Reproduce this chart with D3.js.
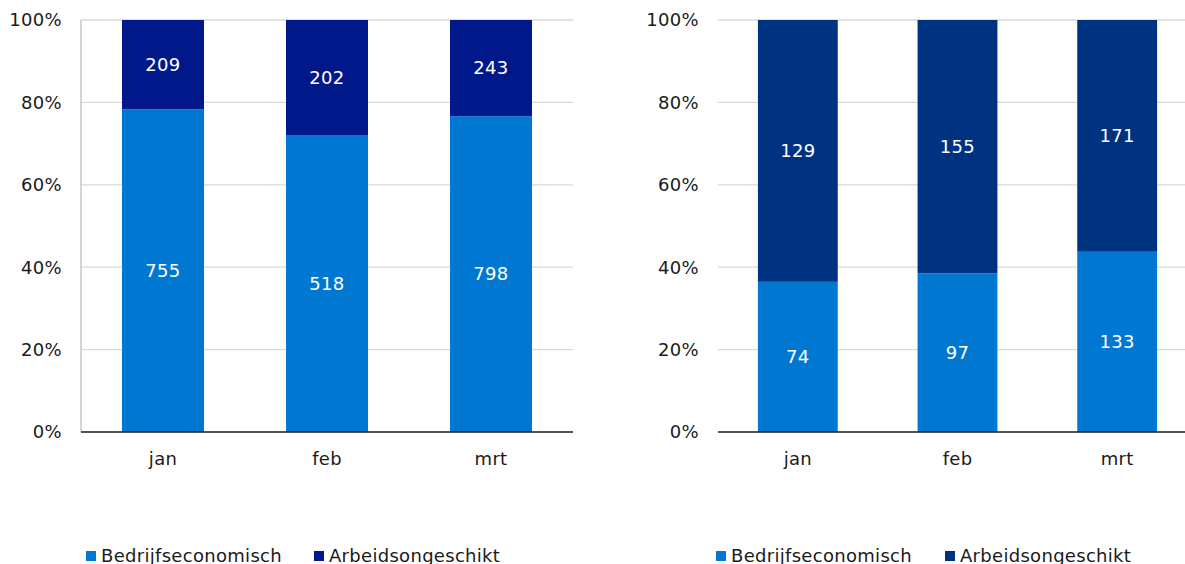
<!DOCTYPE html>
<html>
<head>
<meta charset="utf-8">
<script src="https://cdn.jsdelivr.net/npm/d3@7"></script>
<style>
  body { margin: 0; background: #fff; }
  svg { display: block; font-family: "DejaVu Sans", Verdana, sans-serif; letter-spacing: 0.3px; }
</style>
</head>
<body>
<svg id="chart" width="1185" height="564"></svg>
<script>
// Data
const months = ["jan", "feb", "mrt"];
const seriesNames = ["Bedrijfseconomisch", "Arbeidsongeschikt"];
const leftBedrijf = [755, 518, 798];
const leftArbeid  = [209, 202, 243];
const rightBedrijf = [74, 97, 133];
const rightArbeid  = [129, 155, 171];
const percentTicks = [0, 0.2, 0.4, 0.6, 0.8, 1];

const svg = d3.select("#chart");
const fs = 18;

// one panel per chart
function drawPanel(opts) {
  const rows = months.map((m, i) => ({ month: m, a: opts.a[i], b: opts.b[i] }));
  const stacked = d3.stack().keys(["a", "b"]).offset(d3.stackOffsetExpand)(rows);

  const x = d3.scaleBand().domain(months).range([opts.x0, opts.x1]).paddingInner(0.5).paddingOuter(0.25);
  const y = d3.scaleLinear().domain([0, 1]).range([432, 20]);

  const g = svg.append("g");

  // gridlines
  g.selectAll(".grid")
    .data(percentTicks.slice(1))
    .enter().append("line")
    .attr("x1", opts.x0).attr("x2", opts.x1)
    .attr("y1", d => y(d)).attr("y2", d => y(d))
    .attr("stroke", "#d9d9d9").attr("stroke-width", 1.3);

  // y tick labels
  g.selectAll(".ytick")
    .data(percentTicks)
    .enter().append("text")
    .attr("x", opts.x0 - 19)
    .attr("y", d => y(d))
    .attr("dy", "0.35em")
    .attr("text-anchor", "end")
    .attr("font-size", fs)
    .attr("fill", "#1a1a1a")
    .text(d3.format(".0%"));

  if (opts.yLine) {
    g.append("line")
      .attr("x1", opts.x0).attr("x2", opts.x0)
      .attr("y1", y(1)).attr("y2", y(0))
      .attr("stroke", "#bfbfbf").attr("stroke-width", 1.3);
  }

  // bars
  stacked.forEach((layer, li) => {
    g.selectAll(".bar" + li)
      .data(layer)
      .enter().append("rect")
      .attr("x", d => x(d.data.month))
      .attr("width", x.bandwidth())
      .attr("y", d => y(d[1]))
      .attr("height", d => y(d[0]) - y(d[1]))
      .attr("fill", opts.colors[li]);

    g.selectAll(".lab" + li)
      .data(layer)
      .enter().append("text")
      .attr("x", d => x(d.data.month) + x.bandwidth() / 2)
      .attr("y", d => (y(d[0]) + y(d[1])) / 2)
      .attr("dy", "0.35em")
      .attr("text-anchor", "middle")
      .attr("font-size", fs)
      .attr("fill", "#fff")
      .text(d => d.data[layer.key]);
  });

  // x axis line
  g.append("line")
    .attr("x1", opts.x0).attr("x2", opts.x1)
    .attr("y1", y(0)).attr("y2", y(0))
    .attr("stroke", "#1a1a1a").attr("stroke-width", 1.3);

  g.selectAll(".xtick")
    .data(months)
    .enter().append("text")
    .attr("x", d => x(d) + x.bandwidth() / 2)
    .attr("y", 459)
    .attr("dy", "0.35em")
    .attr("text-anchor", "middle")
    .attr("font-size", fs)
    .attr("fill", "#1a1a1a")
    .text(d => d);

  // legend
  const leg = g.selectAll(".leg")
    .data(seriesNames)
    .enter().append("g")
    .attr("transform", (d, i) => `translate(${opts.legendX[i]}, 556)`);
  leg.append("rect")
    .attr("x", 0).attr("y", -5)
    .attr("width", 10).attr("height", 10)
    .attr("fill", (d, i) => opts.colors[i]);
  leg.append("text")
    .attr("x", 15).attr("dy", "0.35em")
    .attr("font-size", fs)
    .attr("fill", "#1a1a1a")
    .text(d => d);
}

drawPanel({
  a: leftBedrijf, b: leftArbeid,
  x0: 81, x1: 573,
  yLine: true,
  colors: ["#0078d2", "#00188a"],
  legendX: [86, 314]
});

drawPanel({
  a: rightBedrijf, b: rightArbeid,
  x0: 718, x1: 1197,
  yLine: false,
  colors: ["#0078d2", "#003282"],
  legendX: [716, 945]
});
</script>
</body>
</html>
